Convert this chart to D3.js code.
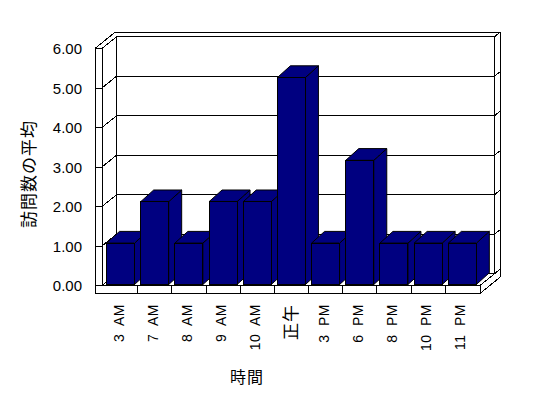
<!DOCTYPE html>
<html>
<head>
<meta charset="utf-8">
<script src="https://cdn.jsdelivr.net/npm/d3@7"></script>
<style>
  body { margin: 0; background: #fff; }
  svg text { font-family: "Liberation Sans", Arial, sans-serif; fill: #000; }
  svg text.cjk { font-family: "Noto Sans CJK JP", sans-serif; }
</style>
</head>
<body>
<svg id="chart"></svg>
<script>
//Chart Data
const categories = ["3 AM", "7 AM", "8 AM", "9 AM", "10 AM", "正午", "3 PM", "6 PM", "8 PM", "10 PM", "11 PM"];
const visits = [1, 2, 1, 2, 2, 5, 1, 3, 1, 1, 1];
const yTicks = [0, 1, 2, 3, 4, 5, 6];
const yTitle = "訪問数の平均";
const xTitle = "時間";

const w = 548;
const h = 398;

//Box Setup (front plane + depth)
const pLeft = 102, pRight = 480, pBottom = 285.5, pTop = 48.5;
const dx = 14.3, dy = -11.6;   //depth of the box
const wallK = 0.42;            //back wall thickness, part of the depth
const wallW = 7, floorH = 8;
const ox = dx * (1 + wallK), oy = dy * (1 + wallK);

//Scales
const xScale = d3.scaleBand()
                 .domain(categories)
                 .range([103.5, 479.5]);
const yScale = d3.scaleLinear()
                 .domain([0, 6])
                 .range([pBottom, pTop]);
//bars stand nearer the viewer, so they come out a bit taller
const yBar = d3.scaleLinear()
               .domain([0, 6])
               .range([284.5, 284.5 - 6 * 41.4]);

const chart = d3.select("#chart")
                .attr("width", w)
                .attr("height", h);

const frame = chart.append("g")
                   .attr("stroke", "#000")
                   .attr("stroke-width", 1)
                   .attr("shape-rendering", "crispEdges");

function seg(x1, y1, x2, y2){
  frame.append("line")
       .attr("x1", x1).attr("y1", y1)
       .attr("x2", x2).attr("y2", y2);
}

//Walls and floor
seg(pLeft - wallW, pTop, pLeft - wallW, pBottom + floorH);
seg(pLeft, pTop, pLeft, pBottom);
seg(pLeft - wallW, pTop, pLeft, pTop);
seg(pLeft - wallW, pTop, pLeft - wallW + ox, pTop + oy);
seg(pLeft, pTop, pLeft + dx, pTop + dy);
seg(pLeft + dx, pTop + dy, pRight + dx, pTop + dy);
seg(pLeft - wallW + ox, pTop + oy, pRight + ox, pTop + oy);
seg(pLeft + dx, pTop + dy, pLeft + dx, pBottom + dy);
seg(pRight + dx, pTop + dy, pRight + dx, pBottom + dy);
seg(pRight + ox, pTop + oy, pRight + ox, pBottom + floorH + oy);
seg(pRight + dx, pTop + dy, pRight + ox, pTop + oy);
seg(pLeft - wallW, pBottom, pRight, pBottom);
seg(pLeft - wallW, pBottom + floorH, pRight, pBottom + floorH);
seg(pRight, pBottom, pRight, pBottom + floorH);
seg(pRight, pBottom, pRight + dx, pBottom + dy);
seg(pRight, pBottom + floorH, pRight + ox, pBottom + floorH + oy);

//Gridlines
yTicks.forEach((v) => {
  const y = yScale(v);
  seg(pLeft - wallW, y, pLeft, y);
  seg(pLeft, y, pLeft + dx, y + dy);
  seg(pLeft + dx, y + dy, pRight + dx, y + dy);
  seg(pRight + dx, y + dy, pRight + ox, y + oy);
});

//Category ticks on the floor edge
categories.slice(1).forEach((c) => {
  seg(xScale(c), pBottom, xScale(c), pBottom + floorH);
});

//Bars
const bw = 28, bdx = 13, bdy = -11.7;
const bars = chart.append("g")
                  .attr("fill", "#000080")
                  .attr("stroke", "#000")
                  .attr("stroke-width", 1)
                  .attr("stroke-linejoin", "miter");

categories.forEach((c, i) => {
  const x = xScale(c) + 3;
  const yt = yBar(visits[i]);
  const yb = yBar(0);
  const g = bars.append("g");
  g.append("polygon")
   .attr("points", [[x + bw, yt], [x + bw + bdx, yt + bdy], [x + bw + bdx, yb + bdy], [x + bw, yb]].join(" "));
  g.append("polygon")
   .attr("points", [[x, yt], [x + bdx, yt + bdy], [x + bw + bdx, yt + bdy], [x + bw, yt]].join(" "));
  g.append("rect")
   .attr("x", x).attr("y", yt)
   .attr("width", bw).attr("height", yb - yt)
   .attr("shape-rendering", "crispEdges");
});

//Y tick labels
chart.append("g")
     .selectAll("text")
     .data(yTicks)
     .enter()
     .append("text")
     .attr("x", 82)
     .attr("y", (d) => yScale(d))
     .attr("text-anchor", "end")
     .attr("dominant-baseline", "central")
     .style("font-size", "15px")
     .text((d) => d3.format(".2f")(d));

//X tick labels
chart.append("g")
     .selectAll("text")
     .data(categories)
     .enter()
     .append("text")
     .attr("class", (d) => /[^\x00-\x7f]/.test(d) ? "cjk" : null)
     .attr("transform", (d) => "translate(" + (xScale(d) + xScale.bandwidth() / 2 - 2) + ",304) rotate(-90)")
     .attr("text-anchor", "end")
     .attr("dominant-baseline", "central")
     .style("font-size", (d) => /[^\x00-\x7f]/.test(d) ? "17px" : "14px")
     .style("letter-spacing", (d) => /[^\x00-\x7f]/.test(d) ? "1px" : "0.5px")
     .style("word-spacing", "4px")
     .text((d) => d);

//Axis titles
chart.append("text")
     .attr("class", "cjk")
     .attr("transform", "translate(27.5,174) rotate(-90)")
     .attr("text-anchor", "middle")
     .attr("dominant-baseline", "central")
     .style("font-size", "17px")
     .style("letter-spacing", "1px")
     .text(yTitle);

chart.append("text")
     .attr("class", "cjk")
     .attr("x", 247)
     .attr("y", 376)
     .attr("text-anchor", "middle")
     .attr("dominant-baseline", "central")
     .style("font-size", "16px")
     .style("letter-spacing", "1px")
     .text(xTitle);
</script>
</body>
</html>
